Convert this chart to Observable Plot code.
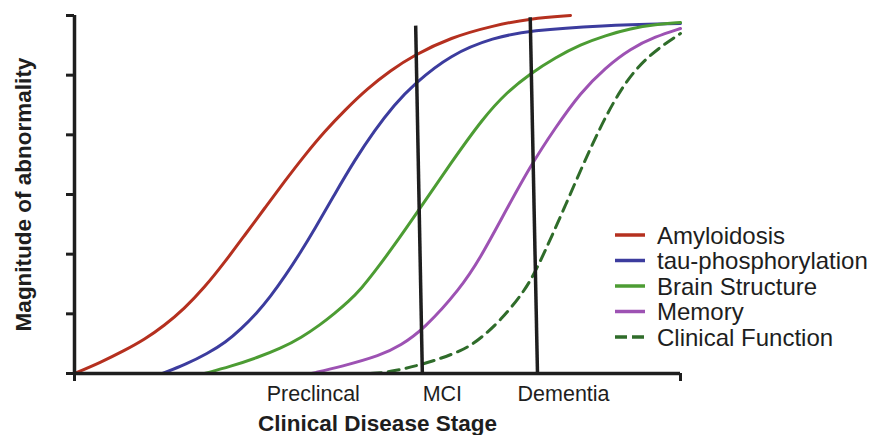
<!DOCTYPE html>
<html>
<head>
<meta charset="utf-8">
<script src="https://cdn.jsdelivr.net/npm/d3@7"></script>
<script src="https://cdn.jsdelivr.net/npm/@observablehq/plot@0.6"></script>
<style>
  body { margin: 0; background: #fff; }
  #wrap { position: relative; width: 877px; height: 435px; overflow: hidden; font-family: "Liberation Sans", Arial, sans-serif; color: #222; }
  #legend { position: absolute; left: 0; top: 0; }
</style>
</head>
<body>
<div id="wrap"></div>
<script>
// ---- data (x: disease progression 0–10, y: magnitude 0–6) ----
const seriesNames = ["Amyloidosis", "tau-phosphorylation", "Brain Structure", "Memory", "Clinical Function"];
const seriesColors = ["#b5301f", "#3c3c9e", "#4c9c33", "#9d52b3", "#2f6c2a"];
const seriesDash = [null, null, null, null, "11,7"];

const amyloidX = [0, 0.429, 0.825, 1.155, 1.485, 1.815, 2.145, 2.475, 2.805, 3.135, 3.465, 3.795, 4.125, 4.455, 4.835, 5.215, 5.594, 6.205, 6.914, 7.525, 8.185];
const amyloidY = [0, 0.184, 0.385, 0.570, 0.804, 1.089, 1.441, 1.860, 2.313, 2.765, 3.218, 3.653, 4.056, 4.408, 4.777, 5.078, 5.329, 5.631, 5.832, 5.949, 6.0];

const tauX = [1.452, 1.832, 2.195, 2.492, 2.756, 3.003, 3.234, 3.482, 3.729, 3.960, 4.290, 4.620, 4.950, 5.281, 5.594, 6.205, 6.914, 7.525, 8.680, 10];
const tauY = [0, 0.151, 0.335, 0.520, 0.754, 1.006, 1.290, 1.642, 2.028, 2.413, 3.000, 3.570, 4.072, 4.508, 4.843, 5.346, 5.631, 5.748, 5.832, 5.866];

const brainX = [2.145, 2.574, 3.020, 3.399, 3.746, 4.059, 4.290, 4.521, 4.736, 4.967, 5.215, 5.677, 6.205, 6.749, 7.129, 7.525, 7.937, 8.350, 8.762, 9.175, 9.587, 10];
const brainY = [0, 0.117, 0.268, 0.419, 0.603, 0.821, 1.006, 1.207, 1.425, 1.726, 2.061, 2.732, 3.519, 4.290, 4.709, 5.028, 5.296, 5.514, 5.665, 5.782, 5.849, 5.882];

const memoryX = [3.911, 4.406, 5.050, 5.380, 5.759, 6.370, 6.700, 7.030, 7.525, 7.937, 8.350, 8.762, 9.175, 9.587, 10];
const memoryY = [0, 0.117, 0.302, 0.469, 0.737, 1.425, 1.944, 2.564, 3.486, 4.123, 4.709, 5.128, 5.447, 5.648, 5.782];

const clinicalX = [4.884, 5.165, 5.759, 6.419, 6.700, 7.030, 7.409, 7.640, 8.102, 8.548, 9.010, 9.455, 10];
const clinicalY = [0, 0.017, 0.151, 0.385, 0.587, 0.888, 1.357, 1.760, 2.816, 3.871, 4.793, 5.329, 5.698];

const seriesX = [amyloidX, tauX, brainX, memoryX, clinicalX];
const seriesY = [amyloidY, tauY, brainY, memoryY, clinicalY];

// stage boundaries (MCI, Dementia): top and bottom ends
const boundaryTopX = [5.63, 7.52];
const boundaryTopY = [5.83, 5.97];
const boundaryBottomX = [5.74, 7.64];
const boundaryBottomY = [0, 0];

const stageTicks = [3.94, 6.07, 8.07];
const stageLabels = ["Preclincal", "MCI", "Dementia"];
const yTicks = [0, 1, 2, 3, 4, 5, 6];
const xEndTicks = [0, 10];

const yLabel = "Magnitude of abnormality";
const xLabel = "Clinical Disease Stage";

// ---- build tables ----
const curves = seriesNames.flatMap((name, i) =>
  seriesX[i].map((x, j) => ({ series: name, x, y: seriesY[i][j] }))
);
const boundaries = boundaryTopX.map((x, i) => ({
  x1: x, y1: boundaryTopY[i], x2: boundaryBottomX[i], y2: boundaryBottomY[i]
}));

const ink = "#1e1e1e";
const font = "'Liberation Sans', Arial, sans-serif";

const lineMarks = seriesNames.map((name, i) =>
  Plot.line(curves.filter(d => d.series === name), {
    x: "x", y: "y", stroke: seriesColors[i], strokeWidth: 3,
    strokeDasharray: seriesDash[i] || undefined, curve: "basis"
  })
);

const chart = Plot.plot({
  width: 877,
  height: 435,
  marginLeft: 74,
  marginRight: 197,
  marginTop: 15,
  marginBottom: 62,
  style: { fontFamily: font, color: ink, background: "#fff", overflow: "visible" },
  x: { domain: [0, 10] },
  y: { domain: [0, 6] },
  marks: [
    ...lineMarks,
    Plot.link(boundaries, { x1: "x1", y1: "y1", x2: "x2", y2: "y2", stroke: ink, strokeWidth: 3.5 }),
    Plot.ruleX([0], { stroke: ink, strokeWidth: 3.5 }),
    Plot.ruleY([0], { stroke: ink, strokeWidth: 3.5 }),
    Plot.axisY({ ticks: yTicks, tickSize: 8, tickFormat: () => "", strokeWidth: 3, stroke: ink, label: null }),
    Plot.axisX({ ticks: xEndTicks, tickSize: 8, tickFormat: () => "", strokeWidth: 3, stroke: ink, label: null }),
    Plot.axisX({ ticks: stageTicks, tickSize: 0, tickPadding: 12, fontSize: 21.5, fill: ink,
      tickFormat: d => stageLabels[stageTicks.indexOf(d)], label: null }),
    Plot.text([yLabel], { frameAnchor: "left", dx: -51, rotate: -90, textAnchor: "middle", lineAnchor: "middle",
      fontSize: 22.5, fontWeight: "bold", fill: ink }),
    Plot.text([xLabel], { frameAnchor: "bottom", dy: 50, textAnchor: "middle", lineAnchor: "middle",
      fontSize: 22.5, fontWeight: "bold", fill: ink })
  ]
});

const wrap = document.getElementById("wrap");
wrap.appendChild(chart);

// ---- legend (overlay) ----
const legendTop = 235, legendStep = 25.5;
const lg = d3.select(wrap).append("svg")
  .attr("id", "legend").attr("width", 877).attr("height", 435)
  .style("pointer-events", "none");
const rows = lg.selectAll("g").data(seriesNames).join("g")
  .attr("transform", (d, i) => `translate(615,${legendTop + i * legendStep})`);
rows.append("line")
  .attr("x1", 0).attr("x2", 30).attr("y1", 0).attr("y2", 0)
  .attr("stroke", (d, i) => seriesColors[i]).attr("stroke-width", 3.5)
  .attr("stroke-dasharray", (d, i) => seriesDash[i] ? "12,5" : null);
rows.append("text")
  .attr("x", 42).attr("y", 0).attr("dy", "0.36em")
  .attr("font-family", font).attr("font-size", 24).attr("fill", ink)
  .text(d => d);
</script>
</body>
</html>
